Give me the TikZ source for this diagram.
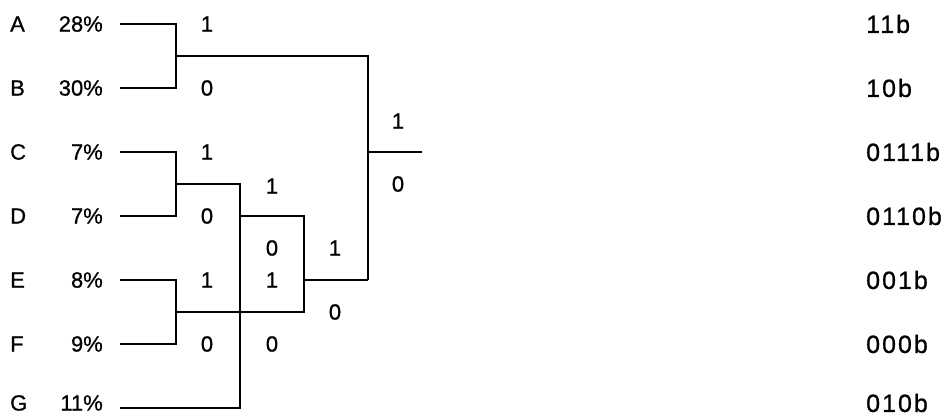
\documentclass[tikz,border=0pt]{standalone}
\usepackage{fontspec}
\setmainfont[FakeBold=0.8,AutoFakeBold=0.8]{Liberation Sans}
\newfontfamily\codefont[LetterSpace=8,FakeBold=0.8]{Liberation Sans}
\newfontfamily\labfont[FakeBold=0.8]{Liberation Sans}
\begin{document}
\begin{tikzpicture}[x=1pt,y=-1pt,
  wire/.style={line width=1.5pt},
  txt/.style={inner sep=0pt,font=\fontsize{22}{22}\selectfont\labfont},
  sym/.style={txt,anchor=west},
  pct/.style={txt,anchor=east},
  bit/.style={txt},
  code/.style={inner sep=0pt,anchor=west,font=\fontsize{25}{25}\selectfont\codefont}]
\useasboundingbox (0,0) rectangle (946,416);
% symbols, probabilities and codes per row
\foreach \n/\s/\p/\c/\y/\t in {a/A/28\%/11b/24/24, b/B/30\%/10b/88/88, c/C/7\%/0111b/152/152,
    d/D/7\%/0110b/216/216, e/E/8\%/001b/280/280, f/F/9\%/000b/344/344, g/G/11\%/010b/408/403}{
  \node[sym]  (s\n) at (10,\t)  {\s};
  \node[pct]  (p\n) at (103,\t) {\p};
  \node[code] (k\n) at (866,\t) {\c};
  \coordinate (l\n) at (120,\y);
}
% merge points of the tree
\coordinate (ab)   at (176,56);
\coordinate (cd)   at (176,184);
\coordinate (ef)   at (176,312);
\coordinate (gend) at (240,408);
\coordinate (cdg)  at (240,216);
\coordinate (efg)  at (304,280);
\coordinate (abr)  at (368,56);
\coordinate (mid)  at (368,280);
\coordinate (root) at (368,152);
\coordinate (out)  at (422,152);
% branches
\draw[wire] (la) -| (ab) |- (lb);
\draw[wire] (lc) -| (cd) |- (ld);
\draw[wire] (le) -| (ef) |- (lf);
\draw[wire] (cd) -| (gend) -- (lg);
\draw[wire] (cdg) -| (efg |- ef) -- (ef);
\draw[wire] (efg) -- (mid);
\draw[wire] (ab) -- (abr) -- (mid);
\draw[wire] (root) -- (out);
% branch bits
\foreach \b/\x/\y in {1/207/24, 0/207/88, 1/207/152, 0/207/216, 1/207/280, 0/207/344,
    1/272/186, 0/272/248, 1/272/280, 0/272/344,
    1/335/248, 0/335/312, 1/398/121, 0/398/184}{
  \node[bit] at (\x,\y) {\b};
}
\end{tikzpicture}
\end{document}
